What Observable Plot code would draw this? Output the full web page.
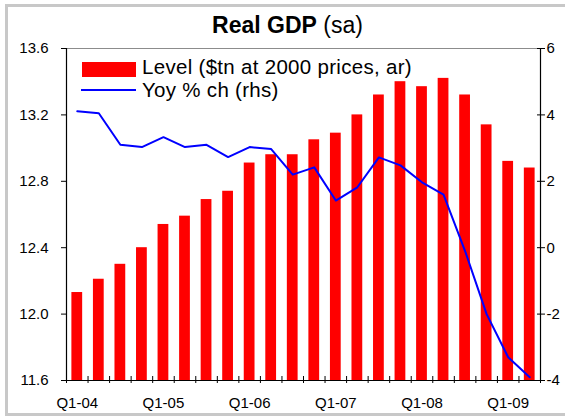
<!DOCTYPE html>
<html>
<head>
<meta charset="utf-8">
<script src="https://cdn.jsdelivr.net/npm/d3@7"></script>
<script src="https://cdn.jsdelivr.net/npm/@observablehq/plot@0.6"></script>
<style>
  body { margin: 0; background: #fff; font-family: "Liberation Sans", Arial, sans-serif; }
  #wrap { position: relative; width: 565px; height: 419px; overflow: hidden; background: #fff; }
  #border { position: absolute; left: 5px; top: 4px; width: 600px; height: 412px; border: 3px solid #c8c8c8; box-sizing: border-box; }
  #chart { position: absolute; left: 0; top: 0; }
  .title { position: absolute; left: 0; top: 14px; width: 575px; text-align: center; font-size: 23px; line-height: 23px; white-space: nowrap; color: #000; }
  .title b { font-weight: bold; }
  .leg-text { position: absolute; left: 142px; font-size: 20.5px; line-height: 20px; white-space: nowrap; color: #000; letter-spacing: 0.3px; }
  .swatch-bar { position: absolute; left: 82px; top: 62px; width: 54px; height: 15px; background: #ff0000; }
  .swatch-line { position: absolute; left: 81px; top: 89px; width: 55px; height: 2px; background: #0000ff; }
</style>
</head>
<body>
<div id="wrap">
  <div id="border"></div>
  <div id="chart"></div>
  <div class="title"><b>Real GDP</b> (sa)</div>
  <div class="swatch-bar"></div>
  <div class="leg-text" style="top:57.2px">Level ($tn at 2000 prices, ar)</div>
  <div class="swatch-line"></div>
  <div class="leg-text" style="top:80.1px">Yoy % ch (rhs)</div>
</div>
<script>
// Quarters (Q1-04 .. Q2-09)
const quarters = [
  "Q1-04","Q2-04","Q3-04","Q4-04",
  "Q1-05","Q2-05","Q3-05","Q4-05",
  "Q1-06","Q2-06","Q3-06","Q4-06",
  "Q1-07","Q2-07","Q3-07","Q4-07",
  "Q1-08","Q2-08","Q3-08","Q4-08",
  "Q1-09","Q2-09"
];
// Real GDP level, $tn at 2000 prices (left axis)
const level = [12.13, 12.21, 12.30, 12.40, 12.54, 12.59, 12.69, 12.74, 12.91, 12.96, 12.96, 13.05,
               13.09, 13.20, 13.32, 13.40, 13.37, 13.42, 13.32, 13.14, 12.92, 12.88];
// Yoy % change (right axis)
const yoy = [4.11, 4.05, 3.10, 3.03, 3.33, 3.03, 3.10, 2.73, 3.03, 2.97, 2.20, 2.42,
             1.42, 1.82, 2.72, 2.48, 1.97, 1.60, -0.10, -2.00, -3.30, -3.90];
// Axis ticks
const leftTicks = [11.6, 12.0, 12.4, 12.8, 13.2, 13.6];
const rightTicks = [-4, -2, 0, 2, 4, 6];
const xLabelQuarters = ["Q1-04","Q1-05","Q1-06","Q1-07","Q1-08","Q1-09"];

const leftDomain = [11.6, 13.6];
const rightDomain = [-4, 6];
const toLeft = v => leftDomain[0] + (v - rightDomain[0]) * (leftDomain[1] - leftDomain[0]) / (rightDomain[1] - rightDomain[0]);
const fromLeft = y => Math.round((rightDomain[0] + (y - leftDomain[0]) * (rightDomain[1] - rightDomain[0]) / (leftDomain[1] - leftDomain[0])) * 1000) / 1000;

const data = quarters.map((q, i) => ({i, q, level: level[i], yoy: yoy[i]}));
const boundaries = d3.range(-0.5, quarters.length, 1);
const labelIdx = xLabelQuarters.map(q => quarters.indexOf(q));

const chart = Plot.plot({
  width: 565,
  height: 419,
  marginLeft: 66,
  marginRight: 25,
  marginTop: 48,
  marginBottom: 39,
  style: {fontFamily: "Liberation Sans, Arial, sans-serif", fontSize: "15px", color: "#000", background: "transparent", overflow: "visible"},
  x: {type: "linear", domain: [-0.5, quarters.length - 0.5], label: null},
  y: {domain: leftDomain, label: null},
  marks: [
    Plot.rect(data, {x1: d => d.i - 0.25, x2: d => d.i + 0.25, y1: leftDomain[0], y2: "level", fill: "#ff0000"}),
    Plot.line(data, {x: "i", y: d => toLeft(d.yoy), stroke: "#0000ff", strokeWidth: 2}),
    Plot.ruleY([leftDomain[1]], {stroke: "#8c8c8c", strokeWidth: 1}),
    Plot.ruleX([boundaries[0], boundaries[boundaries.length - 1]], {stroke: "#000", strokeWidth: 1.2}),
    Plot.ruleY([leftDomain[0]], {stroke: "#000", strokeWidth: 1.2}),
    Plot.axisY(leftTicks, {anchor: "left", tickSize: 6, dx: 1, tickPadding: 13, fontSize: 15, tickFormat: d3.format(".1f"), label: null}),
    Plot.axisY(rightTicks.map(toLeft), {anchor: "right", tickSize: 8, dx: -4, tickPadding: 2, fontSize: 15, tickFormat: d => String(fromLeft(d)), label: null}),
    Plot.axisX(boundaries, {anchor: "bottom", tickSize: 7, dy: -4, tickFormat: () => "", label: null}),
    Plot.axisX(labelIdx, {anchor: "bottom", tickSize: 0, tickPadding: 17, fontSize: 15, tickFormat: i => quarters[i], label: null})
  ]
});
document.getElementById("chart").appendChild(chart);
</script>
</body>
</html>
